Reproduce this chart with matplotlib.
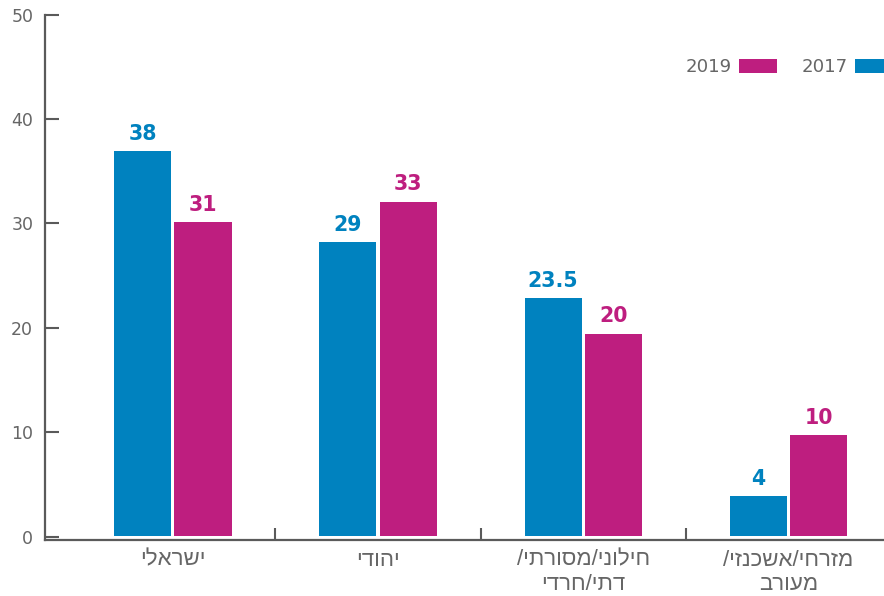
import matplotlib
matplotlib.use("Agg")
import matplotlib.pyplot as plt
import numpy as np

# ---- data ----
categories = ["ישראלי", "יהודי", "חילוני/מסורתי/\nדתי/חרדי", "מזרחי/אשכנזי/\nמעורב"]
values_2017 = [38, 29, 23.5, 4]
values_2019 = [31, 33, 20, 10]
value_labels_2017 = ["38", "29", "23.5", "4"]
value_labels_2019 = ["31", "33", "20", "10"]
series_names = ["2017", "2019"]
y_ticks = [0, 10, 20, 30, 40, 50]


def visual(s):
    """Right-to-left display: matplotlib lays text out left to right."""
    return "\n".join(line[::-1] for line in s.split("\n"))


# ---- style ----
BLUE = "#0082BF"
MAGENTA = "#BE1E7F"
TEXT = "#666666"
AXIS = "#5a5a5a"
plt.rcParams["font.family"] = ["DejaVu Sans"]
HEB_FONT = ["Liberation Sans", "DejaVu Sans"]

W, H = 884, 596
fig = plt.figure(figsize=(W / 100, H / 100), dpi=100)
ax = fig.add_axes([45 / W, 56 / H, 839 / W, 525.5 / H])
ax2 = ax.twinx()

x = np.arange(len(categories))
bw = 0.278
off = 0.147

b17 = ax2.bar(x - off, values_2017, bw, color=BLUE, label=series_names[0], zorder=2)
b19 = ax2.bar(x + off, values_2019, bw, color=MAGENTA, label=series_names[1], zorder=2)

for rect, lab in zip(b17, value_labels_2017):
    ax2.annotate(lab, (rect.get_x() + rect.get_width() / 2, rect.get_height()),
                 xytext=(0, 8), textcoords="offset points", ha="center", va="baseline",
                 fontsize=14.8, fontweight="bold", color=BLUE)
for rect, lab in zip(b19, value_labels_2019):
    ax2.annotate(lab, (rect.get_x() + rect.get_width() / 2, rect.get_height()),
                 xytext=(0, 8), textcoords="offset points", ha="center", va="baseline",
                 fontsize=14.8, fontweight="bold", color=MAGENTA)

ax.set_xlim(-0.623, 3.466)
ax.set_ylim(-0.335, 50)
ax2.set_ylim(-0.345, 51.43)
ax2.axis("off")

for s in ["top", "right"]:
    ax.spines[s].set_visible(False)
for s in ["left", "bottom"]:
    ax.spines[s].set_color(AXIS)
    ax.spines[s].set_linewidth(1.6)

ax.set_yticks(y_ticks)
ax.set_yticklabels([str(t) for t in y_ticks])
ax.tick_params(axis="y", direction="in", length=10, width=1.5, color=AXIS,
               labelsize=12.5, labelcolor=TEXT, pad=8.5)

ax.set_xticks(x)
ax.set_xticklabels([visual(c) for c in categories])
ax.tick_params(axis="x", which="major", length=0, labelsize=16, labelcolor=TEXT, pad=7)
for t in ax.get_xticklabels():
    t.set_family(HEB_FONT)
    t.set_linespacing(1.2)
ax.set_xticks(x[:-1] + 0.5, minor=True)
ax.tick_params(axis="x", which="minor", direction="in", length=9, width=1.5, color=AXIS)

leg = ax.legend([b19, b17], [series_names[1], series_names[0]], ncol=2, markerfirst=False,
                frameon=False, fontsize=13.1, labelcolor=TEXT,
                handlelength=2.1, handleheight=0.78, handletextpad=0.4, columnspacing=1.35,
                borderpad=0, borderaxespad=0, loc="center right",
                bbox_to_anchor=(893 / W, 1 - 67 / H), bbox_transform=fig.transFigure)

fig.savefig("out.png", dpi=100)
